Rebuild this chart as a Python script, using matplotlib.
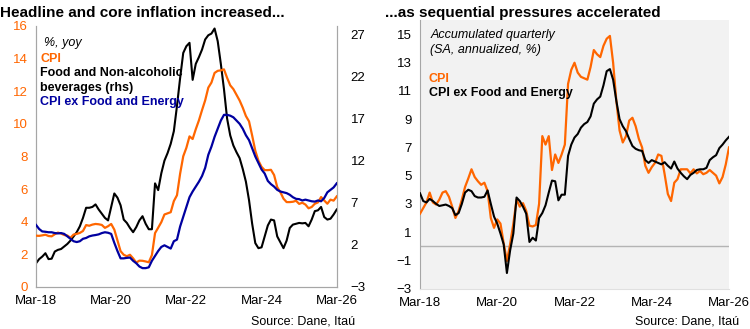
import matplotlib.pyplot as plt
import numpy as np

plt.rcParams['font.family'] = ['Liberation Sans', 'DejaVu Sans']

# monthly, Mar-18 .. Mar-26
tick_labels = ['Mar-18', 'Mar-20', 'Mar-22', 'Mar-24', 'Mar-26']

# left panel: annual variation (%)
cpi_yoy = [3.14, 3.13, 3.16, 3.20, 3.12, 3.10, 3.23, 3.33, 3.27, 3.18,
           3.15, 3.01, 3.21, 3.25, 3.31, 3.43, 3.79, 3.75, 3.82, 3.86, 3.84, 3.80,
           3.62, 3.72, 3.86, 3.51, 2.85, 2.19, 1.97, 1.88, 1.97, 1.75, 1.49, 1.61,
           1.60, 1.56, 1.51, 1.95, 3.30, 3.63, 3.97, 4.44, 4.51, 4.58, 5.26, 5.62,
           6.94, 8.01, 8.53, 9.23, 9.07, 9.67, 10.21, 10.84, 11.44, 12.22, 12.53, 13.12,
           13.25, 13.28, 13.34, 12.82, 12.36, 12.13, 11.78, 11.43, 10.99, 10.48, 10.15, 9.28,
           8.35, 7.74, 7.36, 7.16, 7.16, 7.18, 6.86, 6.12, 5.81, 5.41, 5.20, 5.20,
           5.22, 5.28, 5.09, 5.16, 5.05, 4.82, 4.90, 5.10, 5.18, 5.51, 5.30, 5.10,
           5.35, 5.29, 5.55]
core_yoy = [3.80, 3.55, 3.40, 3.38, 3.35, 3.35, 3.30, 3.28, 3.30, 3.25,
            3.10, 2.95, 2.80, 2.75, 2.80, 2.95, 3.00, 3.10, 3.15, 3.18, 3.22, 3.30,
            3.35, 3.32, 3.25, 2.70, 2.20, 1.75, 1.75, 1.78, 1.80, 1.60, 1.45, 1.25,
            1.15, 1.15, 1.20, 1.60, 1.90, 2.20, 2.45, 2.55, 2.45, 2.35, 2.80, 2.90,
            3.70, 4.30, 4.90, 5.50, 5.85, 6.15, 6.45, 6.80, 7.30, 8.10, 8.60, 9.20,
            9.70, 10.20, 10.55, 10.55, 10.50, 10.40, 10.20, 10.00, 9.70, 9.30, 9.00, 8.50,
            8.00, 7.60, 7.20, 6.95, 6.50, 6.30, 6.15, 5.95, 5.85, 5.80, 5.75, 5.65,
            5.50, 5.40, 5.38, 5.30, 5.35, 5.30, 5.25, 5.23, 5.30, 5.25, 5.45, 5.80,
            5.95, 6.10, 6.35]
food_yoy = [-0.2, 0.3, 0.6, 1.0, 0.3, 0.35, 1.2, 1.4, 1.5, 1.8,
            2.1, 2.5, 3.0, 3.5, 4.2, 5.2, 6.4, 6.4, 6.5, 6.8, 6.2, 5.7,
            5.2, 4.9, 6.5, 8.1, 7.6, 6.7, 5.0, 4.6, 4.0, 3.5, 4.1, 4.9,
            5.4, 4.5, 3.85, 3.85, 9.3, 8.5, 10.5, 12.0, 12.9, 14.0, 15.5, 18.5,
            21.8, 24.8, 25.6, 26.0, 21.6, 23.5, 24.3, 25.2, 26.4, 26.9, 27.1, 27.7,
            26.2, 23.5, 20.5, 17.0, 15.0, 13.8, 13.0, 12.3, 11.0, 9.5, 7.3, 4.5,
            2.2, 1.6, 1.7, 3.0, 4.3, 5.0, 4.9, 3.0, 2.3, 1.6, 2.5, 4.0,
            4.4, 4.5, 4.6, 4.55, 4.6, 4.2, 5.0, 6.0, 6.1, 6.5, 5.3, 5.0,
            5.1, 5.6, 6.2]

# right panel: accumulated quarterly, SA annualized (%)
cpi_qoq = [2.3, 2.7, 3.1, 3.8, 3.1, 2.95, 3.3, 3.8, 3.9, 3.5,
           2.8, 2.0, 2.5, 3.3, 4.2, 4.8, 5.45, 4.9, 4.6, 4.35, 4.5, 3.9,
           2.0, 1.3, 1.9, 1.6, 0.2, -1.05, 0.15, 1.6, 3.3, 2.8, 3.05, 2.5,
           1.45, 1.4, 1.5, 3.0, 7.8, 7.2, 7.8, 5.4, 6.5, 5.9, 6.5, 7.2,
           11.5, 12.5, 13.0, 12.3, 12.0, 11.9, 11.8, 12.7, 13.9, 13.6, 13.4, 14.2,
           14.7, 14.9, 13.0, 10.3, 8.2, 7.35, 7.8, 8.9, 9.1, 8.5, 7.6, 7.0,
           5.7, 5.2, 5.6, 5.9, 6.5, 6.4, 5.1, 3.7, 3.2, 4.5, 4.75, 5.45,
           5.45, 5.45, 5.16, 5.45, 5.16, 5.33, 5.1, 5.2, 5.4, 5.2, 5.0, 4.45,
           4.9, 5.8, 7.0]
core_qoq = [3.75, 3.2, 3.1, 3.35, 3.2, 3.0, 2.85, 2.9, 2.95, 2.85,
            2.7, 2.2, 2.35, 3.0, 3.8, 4.0, 3.9, 3.55, 3.45, 3.45, 3.5, 3.95,
            3.0, 2.1, 1.6, 0.9, 0.13, -1.9, -0.3, 0.9, 3.45, 3.2, 2.8, 2.3,
            0.3, 0.6, 0.4, 2.0, 2.35, 2.9, 3.8, 4.65, 4.6, 3.25, 3.65, 3.65,
            6.4, 7.2, 7.7, 7.95, 8.4, 8.65, 8.8, 9.2, 10.1, 10.4, 10.6, 11.4,
            12.4, 12.55, 11.8, 10.3, 9.0, 8.5, 8.15, 7.6, 7.1, 6.9, 6.8, 6.75,
            6.1, 5.9, 6.1, 6.0, 5.9, 5.8, 5.95, 5.7, 5.5, 6.0, 5.5, 5.2,
            4.95, 4.75, 5.05, 5.2, 5.4, 5.45, 5.45, 5.55, 6.1, 6.3, 6.45, 6.95,
            7.2, 7.5, 7.75]

orange = '#FF6600'
navy = '#0000A0'
bg = '#F2F2F2'
edge = '#A6A6A6'

x = np.arange(len(cpi_yoy))
ticks = [0, 24, 48, 72, 96]

fig = plt.figure(figsize=(7.5, 3.29), dpi=100)

# ---- left: yoy ----
ax = fig.add_axes([0.048, 0.128, 0.401, 0.793])
ax2 = ax.twinx()
ax.plot(x, cpi_yoy, color=orange, lw=1.6, zorder=3)
ax.plot(x, core_yoy, color=navy, lw=1.6, zorder=3)
ax2.plot(x, food_yoy, color='black', lw=1.5)
# keep lhs lines above the rhs one, background on the twin
ax.set_zorder(ax2.get_zorder() + 1)
ax.patch.set_visible(False)
ax2.set_facecolor(bg)

ax.set_xlim(0, 96)
ax.set_ylim(0, 16)
ax.set_yticks(range(0, 17, 2))
ax2.set_ylim(-3, 28)
ax2.set_yticks(range(-3, 28, 5))
ax.set_xticks(ticks)
ax.set_xticklabels(tick_labels)
ax.tick_params(axis='y', colors=orange, labelsize=9.5, length=0, pad=6)
ax.tick_params(axis='x', labelsize=9.5, length=0, pad=6)
ax2.tick_params(axis='y', labelsize=9.5, length=0, pad=10)
for a in (ax, ax2):
    a.spines['top'].set_visible(False)
    for s in ('left', 'right', 'bottom'):
        a.spines[s].set_color(edge)
        a.spines[s].set_linewidth(0.8)

fig.text(0.0, 0.96, 'Headline and core inflation increased...', fontsize=11,
         fontweight='bold', va='center', ha='left')
fig.text(0.058, 0.868, '%, yoy', fontsize=9, style='italic', va='center')
tx = 0.054
fig.text(tx, 0.822, 'CPI', fontsize=9, fontweight='bold', color=orange, va='center')
fig.text(tx, 0.778, 'Food and Non-alcoholic', fontsize=9, fontweight='bold', va='center')
fig.text(tx, 0.733, 'beverages (rhs)', fontsize=9, fontweight='bold', va='center')
fig.text(tx, 0.689, 'CPI ex Food and Energy', fontsize=9, fontweight='bold',
         color=navy, va='center')
fig.text(0.474, 0.024, 'Source: Dane, Itaú', fontsize=9, ha='right', va='center')

# ---- right: quarterly annualized ----
bx = fig.add_axes([0.560, 0.123, 0.412, 0.815])
bx.set_facecolor(bg)
bx.axhline(0, color='#B4B4B4', lw=1.0, zorder=1)
bx.plot(x, cpi_qoq, color=orange, lw=1.6, zorder=3)
bx.plot(x, core_qoq, color='black', lw=1.5, zorder=3)
bx.set_xlim(0, 96)
bx.set_ylim(-3, 16)
bx.set_yticks(range(-3, 16, 2))
bx.set_xticks(ticks)
bx.set_xticklabels(tick_labels)
bx.tick_params(labelsize=9.5, length=0, pad=6)
for s in ('top', 'right'):
    bx.spines[s].set_visible(False)
bx.spines['left'].set_color(edge)
bx.spines['bottom'].set_color('#E0E0E0')

fig.text(0.513, 0.96, '...as sequential pressures accelerated', fontsize=11,
         fontweight='bold', va='center', ha='left')
rx = 0.572
fig.text(rx + 0.002, 0.893, 'Accumulated quarterly', fontsize=9, style='italic', va='center')
fig.text(rx + 0.002, 0.847, '(SA, annualized, %)', fontsize=9, style='italic', va='center')
fig.text(rx, 0.760, 'CPI', fontsize=9, fontweight='bold', color=orange, va='center')
fig.text(rx, 0.716, 'CPI ex Food and Energy', fontsize=9, fontweight='bold', va='center')
fig.text(0.985, 0.024, 'Source: Dane, Itaú', fontsize=9, ha='right', va='center')

fig.savefig('out.png', dpi=100, facecolor='white')
